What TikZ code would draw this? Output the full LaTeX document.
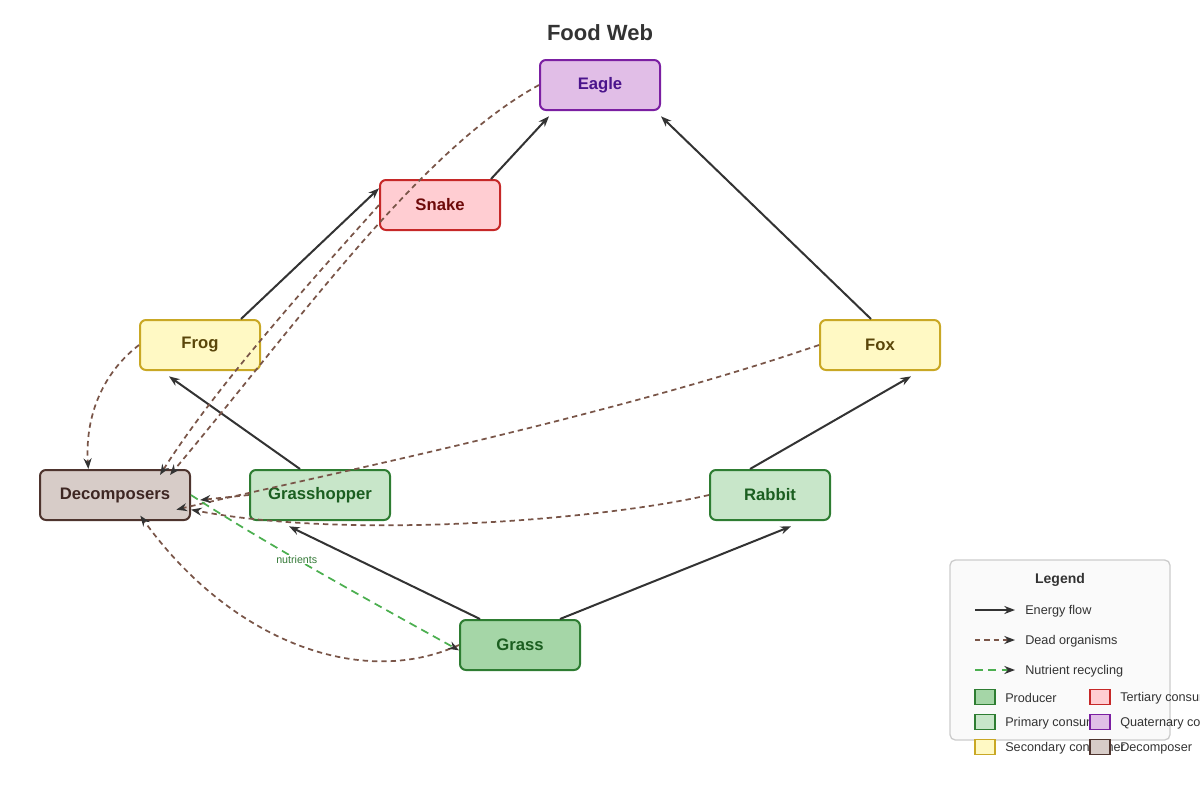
\documentclass[tikz,border=0pt]{standalone}
\usepackage{fontspec}
\setmainfont{Liberation Sans}
\usetikzlibrary{arrows.meta}
\definecolor{dead}{HTML}{795548}
\definecolor{nutr}{HTML}{4CAF50}
\definecolor{ink}{HTML}{333333}
\definecolor{eF}{HTML}{E1BEE7}\definecolor{eD}{HTML}{7B1FA2}\definecolor{eT}{HTML}{4A148C}
\definecolor{sF}{HTML}{FFCDD2}\definecolor{sD}{HTML}{C62828}\definecolor{sT}{HTML}{6E0A0A}
\definecolor{yF}{HTML}{FFF9C4}\definecolor{yD}{HTML}{C9A825}\definecolor{yT}{HTML}{5A460A}
\definecolor{gF}{HTML}{C8E6C9}\definecolor{gG}{HTML}{A5D6A7}\definecolor{gD}{HTML}{2E7D32}\definecolor{gT}{HTML}{1B5E20}
\definecolor{dF}{HTML}{D7CCC8}\definecolor{dD}{HTML}{4E342E}\definecolor{dT}{HTML}{3E2723}
\definecolor{lgD}{HTML}{CCCCCC}\definecolor{lgF}{HTML}{FAFAFA}
\tikzset{
 x=0.75pt,y=-0.75pt,
 box/.style={draw,rounded corners=4.5pt,line width=1.5pt,minimum height=37.5pt,minimum width=90pt,font=\fontsize{12.5}{14}\selectfont\bfseries,inner sep=0pt},
 energy/.style={draw=ink,line width=1.5pt,-{Stealth[length=8pt,width=6pt]}},
 deadf/.style={draw=dead,line width=1.3pt,dash pattern=on 4pt off 3pt,-{Stealth[length=8pt,width=6pt,color=ink]}},
 nut/.style={draw=nutr,line width=1.3pt,dash pattern=on 6pt off 4pt,-{Stealth[length=8pt,width=6pt,color=ink]}},
 leg/.style={font=\fontsize{9.5}{11}\selectfont,text=ink,anchor=west,inner sep=0pt},
 sw/.style={line width=1pt,minimum width=15pt,minimum height=11pt,inner sep=0pt}
}
\begin{document}
\begin{tikzpicture}
\useasboundingbox (0,0) rectangle (1200,800);
\node[font=\fontsize{16.5}{18}\selectfont\bfseries,text=ink] (title) at (600,33) {Food Web};
\node[box,fill=eF,draw=eD,text=eT] (eagle) at (600,85) {Eagle};
\node[box,fill=sF,draw=sD,text=sT] (snake) at (440,205) {Snake};
\node[box,fill=yF,draw=yD,text=yT] (frog) at (200,345) {Frog};
\node[box,fill=yF,draw=yD,text=yT] (fox) at (880,345) {Fox};
\node[box,minimum width=112.5pt,fill=dF,draw=dD,text=dT] (dec) at (115,495) {Decomposers};
\node[box,minimum width=105pt,fill=gF,draw=gD,text=gT] (ghop) at (320,495) {Grasshopper};
\node[box,fill=gF,draw=gD,text=gT] (rabbit) at (770,495) {Rabbit};
\node[box,fill=gG,draw=gD,text=gT] (grass) at (520,645) {Grass};
% energy
\draw[energy] ([xshift=-30pt]grass.north) -- ([xshift=30pt,yshift=-4pt]ghop.south west);
\draw[energy] ([xshift=30pt]grass.north) -- ([xshift=-30pt,yshift=-4pt]rabbit.south east);
\draw[energy] ([xshift=-15pt]ghop.north) -- ([xshift=22.5pt,yshift=-4pt]frog.south west);
\draw[energy] ([xshift=-15pt]frog.north east) -- ([yshift=-7pt]snake.north west);
\draw[energy] ([xshift=-7.5pt]snake.north east) -- ([xshift=7.5pt,yshift=-4pt]eagle.south west);
\draw[energy] ([xshift=-52.5pt]fox.north east) -- ([yshift=-4pt]eagle.south east);
\draw[energy] ([xshift=-15pt]rabbit.north) -- ([xshift=-22.5pt,yshift=-4pt]fox.south east);
% dead
\coordinate (d1) at (170,475); \coordinate (d2) at (160,475);
\draw[deadf] (eagle.west) .. controls (420,150) and (300,320) .. (d1);
\draw[deadf] (snake.west) .. controls (330,260) and (220,380) .. (d2);
\draw[deadf] (frog.west) .. controls (100,375) and (85,420) .. ([xshift=-20pt]dec.north);
\draw[deadf] (fox.west) .. controls (600,420) and (300,480) .. ([xshift=-11pt,yshift=-11pt]dec.east);
\draw[deadf] (rabbit.west) .. controls (600,520) and (350,540) .. ([yshift=-11pt]dec.east);
\draw[deadf] (ghop.west) -- (200,500);
\draw[deadf] (grass.west) .. controls (360,690) and (230,640) .. ([xshift=19pt,yshift=4pt]dec.south);
% nutrients
\draw[nut] (dec.east) .. controls (260,540) and (350,590) .. ([yshift=-4pt]grass.west) node[pos=0.45,font=\fontsize{8}{9}\selectfont,text=nutr!70!black,fill=white,inner sep=0.5pt] {nutrients};
% legend
\node[draw=lgD,fill=lgF,rounded corners=4pt,line width=1pt,minimum width=165pt,minimum height=135pt] (lg) at (1060,650) {};
\node[font=\fontsize{10.5}{12}\selectfont\bfseries,text=ink] (lt) at (1060,580) {Legend};
\coordinate (a1) at (975,610); \coordinate (b1) at (1015,610);
\coordinate (a2) at (975,640); \coordinate (b2) at (1015,640);
\coordinate (a3) at (975,670); \coordinate (b3) at (1015,670);
\draw[energy] (a1) -- (b1); \node[leg] (l1) at (1025,611) {Energy flow};
\draw[deadf] (a2) -- (b2); \node[leg] (l2) at (1025,641) {Dead organisms};
\draw[nut] (a3) -- (b3); \node[leg] (l3) at (1025,671) {Nutrient recycling};
\node[sw,fill=gG,draw=gD] (s1) at (985,697) {};
\node[leg] (t1) at (1005,698) {Producer};
\node[sw,fill=gF,draw=gD] (s2) at (985,722) {};
\node[leg] (t2) at (1005,723) {Primary consumer};
\node[sw,fill=yF,draw=yD] (s3) at (985,747) {};
\node[leg] (t3) at (1005,748) {Secondary consumer};
\node[sw,fill=sF,draw=sD] (s4) at (1100,697) {};
\node[leg] (t4) at (1120,698) {Tertiary consumer};
\node[sw,fill=eF,draw=eD] (s5) at (1100,722) {};
\node[leg] (t5) at (1120,723) {Quaternary consumer};
\node[sw,fill=dF,draw=dD] (s6) at (1100,747) {};
\node[leg] (t6) at (1120,748) {Decomposer};
\end{tikzpicture}
\end{document}
